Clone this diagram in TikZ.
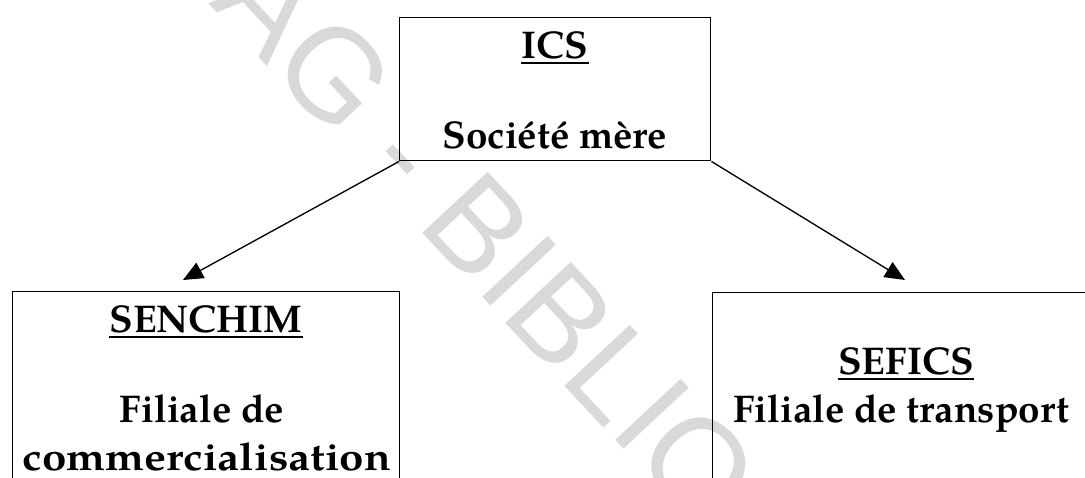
\documentclass[tikz,border=0pt]{standalone}
\usepackage{graphicx}
\usepackage{fontspec}
\setmainfont{TeX Gyre Pagella}
\newfontfamily\wmfont{Liberation Sans}
\usetikzlibrary{arrows.meta}
\begin{document}
\begin{tikzpicture}[x=0.75pt,y=-0.75pt,
  lab/.style={inner sep=0pt, anchor=base, font=\fontsize{29}{34}\bfseries\selectfont},
  box/.style={draw, line width=1.1pt, inner sep=0pt, anchor=north west},
  arr/.style={line width=1pt, -{Triangle[length=15pt,width=13pt]}},
  ul/.style={line width=1.4pt},
  wm/.style={inner sep=0pt, text=gray!30, font=\wmfont\fontsize{97.5}{100}\selectfont}
]
\useasboundingbox (0,0) rectangle (1085,478);
\begin{scope}
\clip (0,0) rectangle (1085,478);
% watermark
\node[wm, anchor=base west, rotate=-47] (wm) at (208,3.5) {AG - BIBLIO};
% boxes
\node[box, minimum width=233.25pt, minimum height=107.25pt] (ics) at (399,17) {};
\node[box, minimum width=290.25pt, minimum height=180pt] (sen) at (12,291) {};
\node[box, minimum width=300pt, minimum height=180pt] (sef) at (712,292) {};
% texts
\node[lab] (t1) at (555,59) {ICS};
\node[lab] (t2) at (555,148) {Société mère};
\node[lab] (t3) at (206,332) {SENCHIM};
\node[lab] (t4) at (202,422) {Filiale de};
\node[lab] (t5) at (207,470) {\resizebox{276pt}{\height}{commercialisation}};
\node[lab] (t6) at (906,374) {SEFICS};
\node[lab] (t7) at (901,422) {Filiale de transport};
% underlines
\draw[ul] ([yshift=-3pt]t1.base west) -- ([yshift=-3pt]t1.base east);
\draw[ul] ([yshift=-4pt]t3.base west) -- ([yshift=-4pt]t3.base east);
\draw[ul] ([yshift=-4pt]t6.base west) -- ([yshift=-4pt]t6.base east);
% arrows
\coordinate (a1) at (183,280);
\coordinate (a2) at (905,280);
\draw[arr] (ics.south west) -- (a1);
\draw[arr] (ics.south east) -- (a2);
\end{scope}
\end{tikzpicture}
\end{document}
